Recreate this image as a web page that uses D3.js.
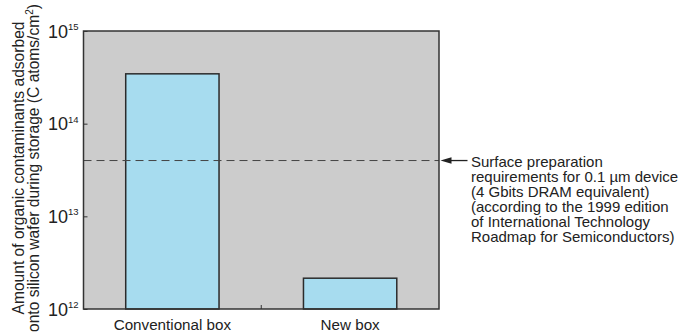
<!DOCTYPE html>
<html>
<head>
<meta charset="utf-8">
<script src="https://cdn.jsdelivr.net/npm/d3@7"></script>
<style>
  html, body { margin: 0; padding: 0; background: #fff; }
  svg { display: block; font-family: "Liberation Sans", Arial, Helvetica, sans-serif; }
</style>
</head>
<body>
<svg id="chart" width="686" height="336"></svg>
<script>
// Organic contamination adsorbed on wafers during storage (C atoms/cm²)
const categories = ["Conventional box", "New box"];
const values = [3.45e14, 2.15e12];
const requirement = 4e13;
const tickExponents = [12, 13, 14, 15];
const noteLines = [
  "Surface preparation",
  "requirements for 0.1 \u00b5m device",
  "(4 Gbits DRAM equivalent)",
  "(according to the 1999 edition",
  "of  International Technology",
  "Roadmap for Semiconductors)"
];
const titleLines = [
  "Amount of organic contaminants adsorbed",
  "onto silicon wafer during storage (C atoms/cm"
];

const svg = d3.select("#chart");
const margin = { left: 83.5, top: 31, right: 247, bottom: 27 };
const W = 686 - margin.left - margin.right;
const H = 336 - margin.top - margin.bottom;

const g = svg.append("g").attr("transform", `translate(${margin.left},${margin.top})`);

const x = d3.scaleBand().domain(categories).range([0, W]).paddingInner(0.475).paddingOuter(0.2375);
const y = d3.scaleLog().domain([1e12, 1e15]).range([H, 0]);

// plot background
g.append("rect").attr("x", 0).attr("y", 0).attr("width", W).attr("height", H)
  .attr("fill", "#cccccc");

// bars
g.selectAll("rect.bar").data(values).join("rect")
  .attr("class", "bar")
  .attr("x", (d, i) => x(categories[i]))
  .attr("width", x.bandwidth())
  .attr("y", d => y(d))
  .attr("height", d => H - y(d))
  .attr("fill", "#a7dcef")
  .attr("stroke", "#2b2b2b")
  .attr("stroke-width", 1.5);

// requirement level
g.append("line")
  .attr("x1", 0).attr("x2", W)
  .attr("y1", y(requirement)).attr("y2", y(requirement))
  .attr("stroke", "#444").attr("stroke-width", 1)
  .attr("stroke-dasharray", "8,5");

// frame
g.append("rect").attr("x", 0).attr("y", 0).attr("width", W).attr("height", H)
  .attr("fill", "none").attr("stroke", "#333").attr("stroke-width", 1.5);

// y axis: inward ticks, 10^n labels
const yAxis = d3.axisLeft(y).tickValues(tickExponents.map(e => Math.pow(10, e)))
  .tickSizeInner(-4).tickSizeOuter(0).tickFormat("");
const ya = g.append("g").call(yAxis);
ya.select(".domain").remove();
ya.selectAll(".tick line").attr("stroke", "#333").attr("stroke-width", 1);

const labels = g.append("g").selectAll("text").data(tickExponents).join("text")
  .attr("x", -5)
  .attr("y", e => y(Math.pow(10, e)) + 6.5)
  .attr("text-anchor", "end")
  .attr("fill", "#222")
  .style("font-size", "18px");
labels.append("tspan").text("10");
labels.append("tspan").attr("dy", -7.5).style("font-size", "9.5px").text(e => e);

// x axis: category labels and a centre tick
const xAxis = d3.axisBottom(x).tickSize(0).tickPadding(0);
const xa = g.append("g").attr("transform", `translate(0,${H})`).call(xAxis);
xa.select(".domain").remove();
xa.selectAll(".tick text").attr("dy", null).attr("y", 21)
  .attr("fill", "#222").style("font-size", "15.2px")
  .style("font-family", "'Liberation Sans', Arial, sans-serif");
g.append("line").attr("x1", W / 2).attr("x2", W / 2).attr("y1", H).attr("y2", H - 4)
  .attr("stroke", "#333").attr("stroke-width", 1);

// y axis title
const title = svg.append("text")
  .attr("transform", `translate(0,168) rotate(-90)`)
  .attr("text-anchor", "middle").attr("fill", "#222").style("font-size", "15.6px");
title.append("tspan").attr("x", 0).attr("y", 23.5).text(titleLines[0]);
const t2 = title.append("tspan").attr("x", 0).attr("y", 38.5);
t2.append("tspan").text(titleLines[1]);
t2.append("tspan").attr("dy", -6).style("font-size", "10px").text("2");
t2.append("tspan").attr("dy", 6).text(")");

// annotation arrow and note
const ay = margin.top + y(requirement);
const ax0 = margin.left + W + 1.5;
svg.append("line").attr("x1", ax0 + 8).attr("x2", ax0 + 27)
  .attr("y1", ay).attr("y2", ay).attr("stroke", "#222").attr("stroke-width", 1.3);
svg.append("path")
  .attr("d", `M${ax0},${ay} L${ax0 + 11},${ay - 3.2} L${ax0 + 11},${ay + 3.2} Z`)
  .attr("fill", "#222");

svg.append("g").selectAll("text").data(noteLines).join("text")
  .attr("x", 471)
  .attr("y", (d, i) => ay + 6 + i * 15)
  .attr("fill", "#222")
  .style("font-size", "15px")
  .text(d => d);
</script>
</body>
</html>
